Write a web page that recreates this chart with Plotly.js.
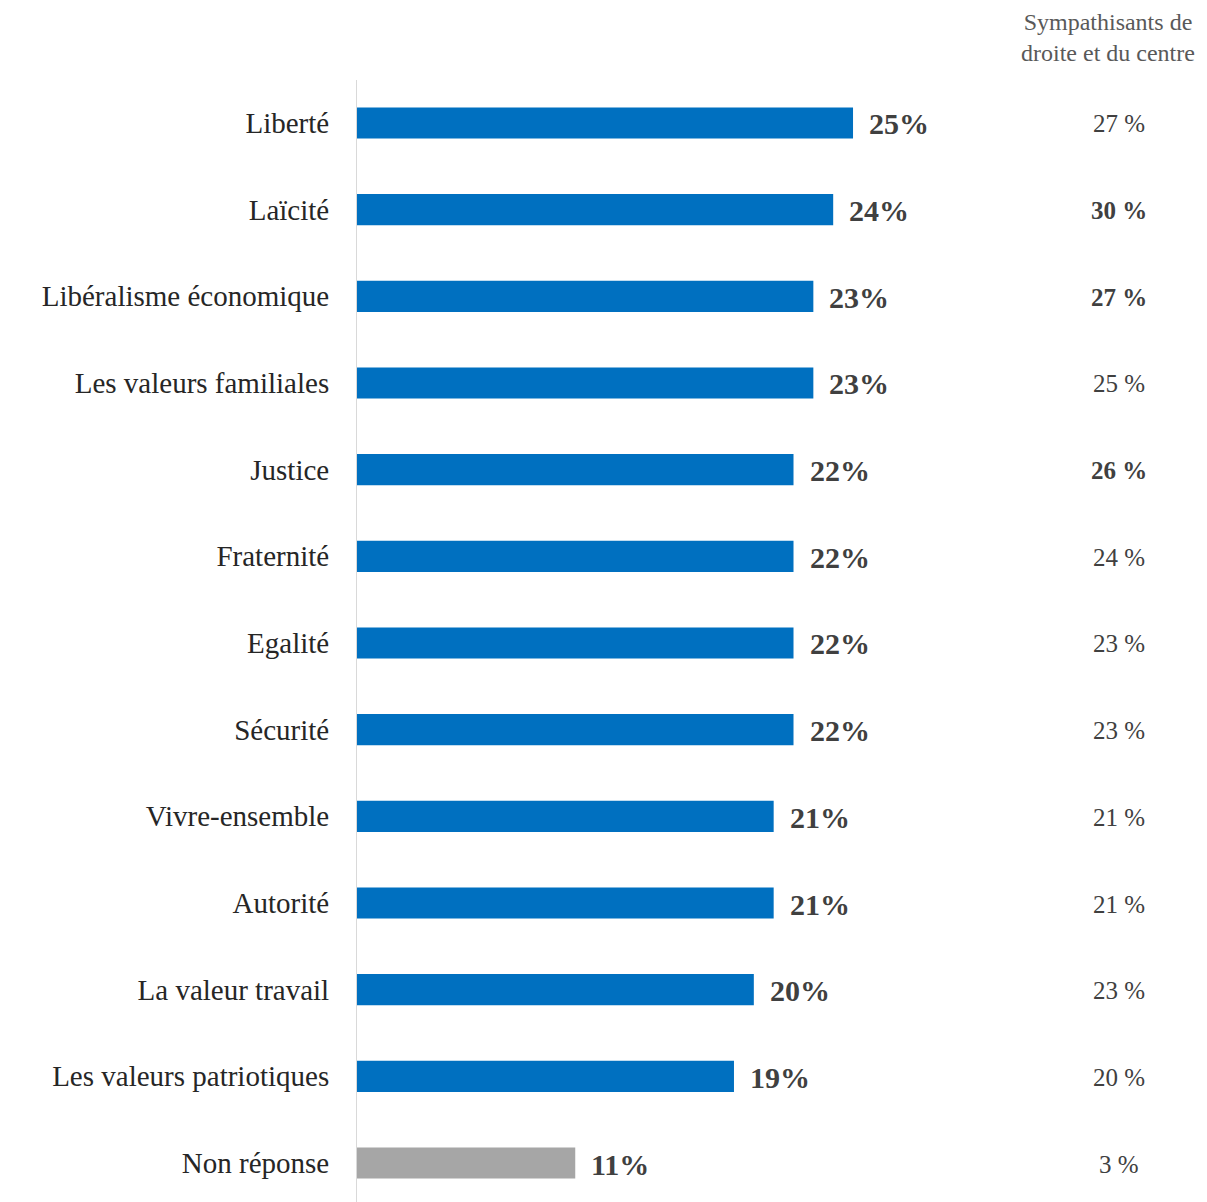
<!DOCTYPE html>
<html>
<head>
<meta charset="utf-8">
<script src="https://cdn.plot.ly/plotly-3.0.1.min.js"></script>
<style>html,body{margin:0;padding:0;background:#fff;}#chart{width:1207px;height:1202px;}</style>
</head>
<body>
<div id="chart"></div>
<script>
const categories = ["Liberté","Laïcité","Libéralisme économique","Les valeurs familiales","Justice","Fraternité","Egalité","Sécurité","Vivre-ensemble","Autorité","La valeur travail","Les valeurs patriotiques","Non réponse"];
const values = [25,24,23,23,22,22,22,22,21,21,20,19,11];
const sympLabels = ["27 %","30 %","27 %","25 %","26 %","24 %","23 %","23 %","21 %","21 %","23 %","20 %","3 %"];
const sympBold = [false,true,true,false,true,false,false,false,false,false,false,false,false];
const columnHeader = "Sympathisants de<br>droite et du centre";

const FONT = "'Palatino Linotype','Book Antiqua',Palatino,'Liberation Serif',serif";
const colors = categories.map((c,i)=> i===categories.length-1 ? "#A6A6A6" : "#0070C0");

const trace = {
  type: "bar", orientation: "h",
  x: values, y: categories.map((c,i)=>i),
  marker: {color: colors},
  width: 0.36,
  hoverinfo: "none"
};

const annotations = [];
values.forEach((v,i)=>{
  annotations.push({x: v, y: i, xref: "x", yref: "y", text: "<b>"+v+"%</b>", showarrow: false,
    xanchor: "left", yanchor: "middle", xshift: 14, yshift: -1,
    font: {family: FONT, size: 30, color: "#404040"}});
  annotations.push({x: 0.8965, y: i, xref: "paper", yref: "y",
    text: sympBold[i] ? "<b>"+sympLabels[i]+"</b>" : sympLabels[i], showarrow: false,
    xanchor: "center", yanchor: "middle", yshift: -1,
    font: {family: FONT, size: 25, color: "#404040"}});
});
annotations.push({x: 0.8835, y: 1, xref: "paper", yref: "paper", yanchor: "bottom",
  xanchor: "center", yshift: 12, text: columnHeader, showarrow: false, align: "center",
  font: {family: FONT, size: 24, color: "#595959"}});

const layout = {
  width: 1207, height: 1202,
  margin: {l: 357, r: 0, t: 80, b: 0},
  paper_bgcolor: "#fff", plot_bgcolor: "#fff",
  showlegend: false,
  xaxis: {range: [0, 42.84], showgrid: false, zeroline: false, showticklabels: false, showline: false, ticks: ""},
  yaxis: {range: [12.45, -0.496], tickmode: "array", tickvals: categories.map((c,i)=>i), ticktext: categories,
    showgrid: false, zeroline: false, showline: true, linecolor: "#D9D9D9", linewidth: 1,
    ticks: "", ticklabelstandoff: 21,
    tickfont: {family: FONT, size: 29, color: "#262626"}},
  annotations: annotations
};
Plotly.newPlot("chart", [trace], layout, {displayModeBar: false, staticPlot: true});
</script>
</body>
</html>
